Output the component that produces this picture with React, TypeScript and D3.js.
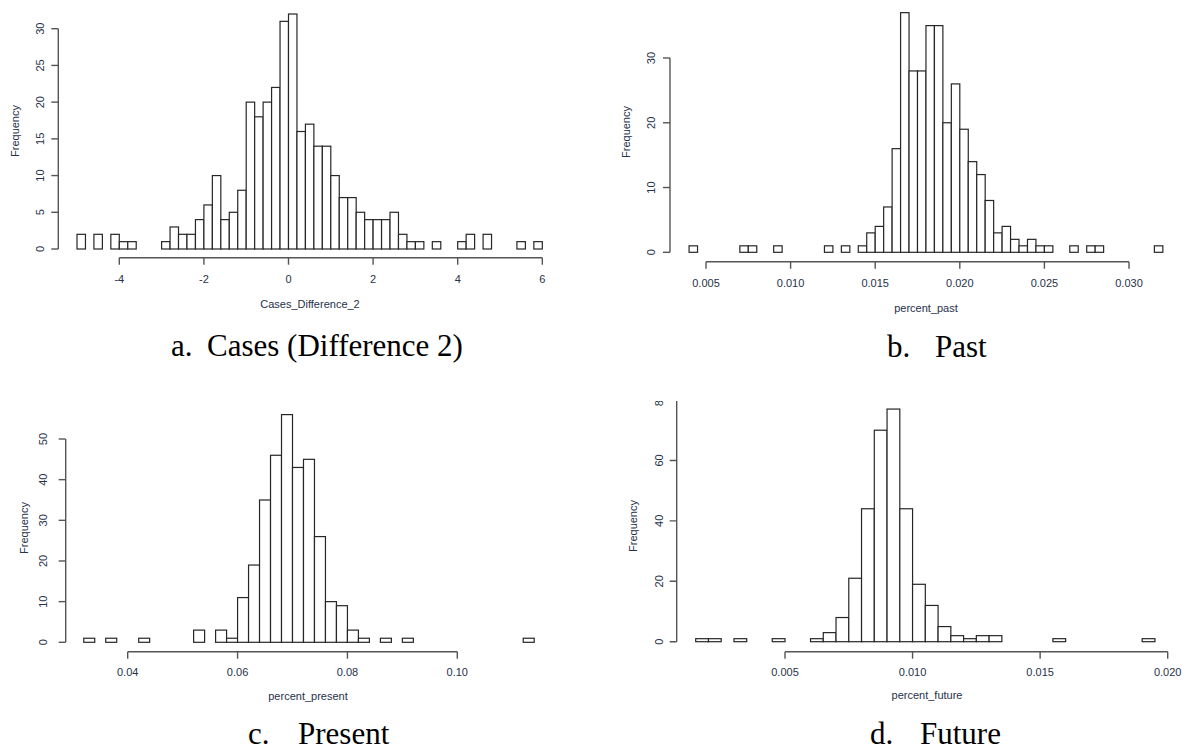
import React from "react";
import * as d3 from "d3";

// ---------- data ----------
const aBinStart = -5;
const aBinWidth = 0.2;
const aCounts = [2, 0, 2, 0, 2, 1, 1, 0, 0, 0, 1, 3, 2, 2, 4, 6, 10, 4, 5, 8, 20, 18, 20, 22, 31, 32, 16, 17, 14, 14, 10, 7, 7, 5, 4, 4, 4, 5, 2, 1, 1, 0, 1, 0, 0, 1, 2, 0, 2, 0, 0, 0, 1, 0, 1];
const aXTicks = [-4, -2, 0, 2, 4, 6];
const aYTicks = [0, 5, 10, 15, 20, 25, 30];

const bBinStart = 0.004;
const bBinWidth = 0.0005;
const bCounts = [1, 0, 0, 0, 0, 0, 1, 1, 0, 0, 1, 0, 0, 0, 0, 0, 1, 0, 1, 0, 1, 3, 4, 7, 16, 37, 28, 28, 35, 35, 20, 26, 19, 14, 12, 8, 3, 4, 2, 1, 2, 1, 1, 0, 0, 1, 0, 1, 1, 0, 0, 0, 0, 0, 0, 1];
const bXTicks = [0.005, 0.01, 0.015, 0.02, 0.025, 0.03];
const bYTicks = [0, 10, 20, 30];

const cBinStart = 0.032;
const cBinWidth = 0.002;
const cCounts = [1, 0, 1, 0, 0, 1, 0, 0, 0, 0, 3, 0, 3, 1, 11, 19, 35, 46, 56, 43, 45, 26, 10, 9, 3, 1, 0, 1, 0, 1, 0, 0, 0, 0, 0, 0, 0, 0, 0, 0, 1];
const cXTicks = [0.04, 0.06, 0.08, 0.1];
const cYTicks = [0, 10, 20, 30, 40, 50];

const dBinStart = 0.0015;
const dBinWidth = 0.0005;
const dCounts = [1, 1, 0, 1, 0, 0, 1, 0, 0, 1, 3, 8, 21, 44, 70, 77, 44, 19, 12, 5, 2, 1, 2, 2, 0, 0, 0, 0, 1, 0, 0, 0, 0, 0, 0, 1];
const dXTicks = [0.005, 0.01, 0.015, 0.02];
const dYTicks = [0, 20, 40, 60, 80];

const xTitles = ["Cases_Difference_2", "percent_past", "percent_present", "percent_future"];
const captionLetters = ["a.", "b.", "c.", "d."];
const captionWords = ["Cases (Difference 2)", "Past", "Present", "Future"];

// ---------- layout ----------
const TEXT = "#26314a";
const AXIS = "#555";
const BAR = "#262626";
const SANS = "'Liberation Sans', Arial, sans-serif";
const SERIF = "'Liberation Serif', 'Times New Roman', serif";

type Panel = {
  start: number;
  width: number;
  counts: number[];
  xTicks: number[];
  xFmt: (v: number) => string;
  yTicks: number[];
  xDomain: [number, number];
  xRange: [number, number];
  yDomain: [number, number];
  yRange: [number, number];
  yAxisX: number;
  xAxisY: number;
  yLabelX: number;
  freqX: number;
  freqY: number;
  xLabelY: number;
  title: string;
  titleX: number;
  titleY: number;
  capLetter: string;
  capWord: string;
  capLetterX: number;
  capWordX: number;
  capY: number;
  clipTop?: number;
};

const fmt3 = (v: number) => d3.format(".3f")(v);
const fmt2 = (v: number) => d3.format(".2f")(v);
const fmtInt = (v: number) => String(v).replace("-", "-");

const panels: Panel[] = [
  {
    start: aBinStart, width: aBinWidth, counts: aCounts, xTicks: aXTicks, xFmt: fmtInt, yTicks: aYTicks,
    xDomain: [-4, 6], xRange: [119.3, 542.3], yDomain: [0, 30], yRange: [249, 28.7],
    yAxisX: 58.3, xAxisY: 257.7, yLabelX: 40, freqX: 15, freqY: 131, xLabelY: 283,
    title: xTitles[0], titleX: 310, titleY: 308,
    capLetter: captionLetters[0], capWord: captionWords[0], capLetterX: 171, capWordX: 207, capY: 356,
  },
  {
    start: bBinStart, width: bBinWidth, counts: bCounts, xTicks: bXTicks, xFmt: fmt3, yTicks: bYTicks,
    xDomain: [0.005, 0.03], xRange: [706, 1129], yDomain: [0, 30], yRange: [252.3, 58],
    yAxisX: 670, xAxisY: 261.7, yLabelX: 651, freqX: 626, freqY: 132, xLabelY: 286.5,
    title: xTitles[1], titleX: 926, titleY: 312,
    capLetter: captionLetters[1], capWord: captionWords[1], capLetterX: 887, capWordX: 935, capY: 357,
  },
  {
    start: cBinStart, width: cBinWidth, counts: cCounts, xTicks: cXTicks, xFmt: fmt2, yTicks: cYTicks,
    xDomain: [0.04, 0.1], xRange: [127.7, 457.3], yDomain: [0, 50], yRange: [642.3, 439],
    yAxisX: 65.7, xAxisY: 651.7, yLabelX: 43, freqX: 23.5, freqY: 528, xLabelY: 675.5,
    title: xTitles[2], titleX: 308, titleY: 700,
    capLetter: captionLetters[2], capWord: captionWords[2], capLetterX: 248, capWordX: 298, capY: 744,
  },
  {
    start: dBinStart, width: dBinWidth, counts: dCounts, xTicks: dXTicks, xFmt: fmt3, yTicks: dYTicks,
    xDomain: [0.005, 0.02], xRange: [785, 1167.7], yDomain: [0, 80], yRange: [641.7, 400],
    yAxisX: 676.7, xAxisY: 651.7, yLabelX: 658.5, freqX: 633, freqY: 526, xLabelY: 675.5,
    title: xTitles[3], titleX: 927, titleY: 699,
    capLetter: captionLetters[3], capWord: captionWords[3], capLetterX: 870, capWordX: 920, capY: 744,
    clipTop: 401,
  },
];

function Hist({ p, idx }: { p: Panel; idx: number }) {
  const x = d3.scaleLinear().domain(p.xDomain).range(p.xRange);
  const y = d3.scaleLinear().domain(p.yDomain).range(p.yRange);
  const bins = p.counts.map((c, i) => ({ x0: p.start + i * p.width, x1: p.start + (i + 1) * p.width, c }));
  const yMin = p.yTicks[0];
  const yMax = p.yTicks[p.yTicks.length - 1];
  const clipId = `clip-${idx}`;
  return (
    <g>
      {p.clipTop !== undefined && (
        <defs>
          <clipPath id={clipId}>
            <rect x={p.yAxisX - 80} y={p.clipTop} width={600} height={400} />
          </clipPath>
        </defs>
      )}
      <g clipPath={p.clipTop !== undefined ? `url(#${clipId})` : undefined}>
        {/* bars */}
        {bins.map((b, i) => (
          <rect
            key={i}
            x={x(b.x0)}
            y={y(b.c)}
            width={x(b.x1) - x(b.x0)}
            height={y(0) - y(b.c)}
            fill="#fff"
            stroke={BAR}
            strokeWidth={1.2}
          />
        ))}
        {/* y axis */}
        <line x1={p.yAxisX} x2={p.yAxisX} y1={y(yMin)} y2={y(yMax)} stroke={AXIS} strokeWidth={1.4} />
        {p.yTicks.map((t) => (
          <g key={t}>
            <line x1={p.yAxisX - 7} x2={p.yAxisX} y1={y(t)} y2={y(t)} stroke={AXIS} strokeWidth={1.4} />
            <text
              transform={`translate(${p.yLabelX},${y(t)}) rotate(-90)`}
              textAnchor="middle"
              dominantBaseline="central"
              fontFamily={SANS}
              fontSize={11}
              fill={TEXT}
            >
              {t}
            </text>
          </g>
        ))}
      </g>
      {/* x axis */}
      <line
        x1={x(p.xTicks[0])}
        x2={x(p.xTicks[p.xTicks.length - 1])}
        y1={p.xAxisY}
        y2={p.xAxisY}
        stroke={AXIS}
        strokeWidth={1.4}
      />
      {p.xTicks.map((t) => (
        <g key={t}>
          <line x1={x(t)} x2={x(t)} y1={p.xAxisY} y2={p.xAxisY + 7} stroke={AXIS} strokeWidth={1.4} />
          <text x={x(t)} y={p.xLabelY} textAnchor="middle" fontFamily={SANS} fontSize={11} fill={TEXT}>
            {p.xFmt(t)}
          </text>
        </g>
      ))}
      {/* axis titles */}
      <text
        transform={`translate(${p.freqX},${p.freqY}) rotate(-90)`}
        textAnchor="middle"
        dominantBaseline="central"
        fontFamily={SANS}
        fontSize={11}
        fill={TEXT}
      >
        Frequency
      </text>
      <text x={p.titleX} y={p.titleY} textAnchor="middle" fontFamily={SANS} fontSize={11} fill={TEXT}>
        {p.title}
      </text>
      {/* caption */}
      <text x={p.capLetterX} y={p.capY} fontFamily={SERIF} fontSize={31} fill="#000">
        {p.capLetter}
      </text>
      <text x={p.capWordX} y={p.capY} fontFamily={SERIF} fontSize={31} fill="#000">
        {p.capWord}
      </text>
    </g>
  );
}

export default function App() {
  return (
    <div style={{ position: "absolute", left: 0, top: 0, width: 1188, height: 750, background: "#fff" }}>
      <svg width={1188} height={750} style={{ display: "block" }}>
        <rect x={0} y={0} width={1188} height={750} fill="#fff" />
        {panels.map((p, i) => (
          <Hist key={i} p={p} idx={i} />
        ))}
      </svg>
    </div>
  );
}
